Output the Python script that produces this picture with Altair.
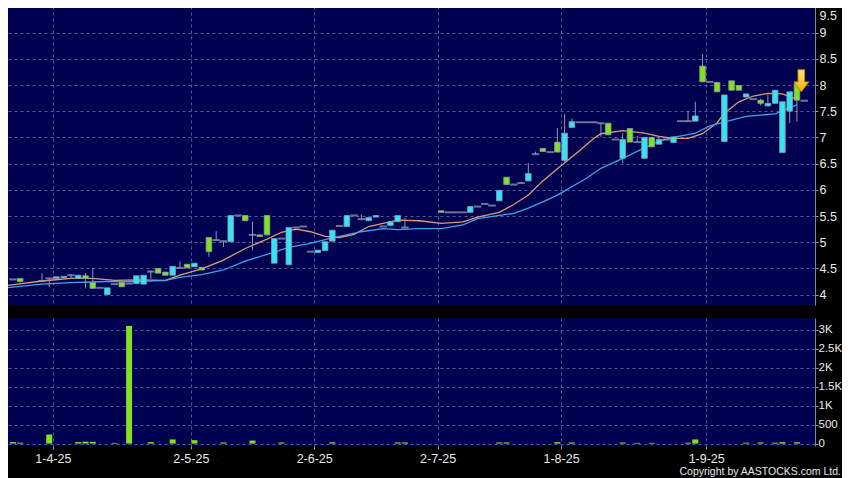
import altair as alt
import pandas as pd

# ---- candles (trading-day index, open, high, low, close) ----
K = [0, 1, 4, 5, 6, 7, 8, 9, 10, 11, 12, 13, 14, 15, 16, 17, 18, 19, 20, 21,
     22, 23, 24, 25, 26, 27, 28, 29, 30, 31, 32, 33, 34, 35, 36, 37, 38, 39, 40, 41,
     42, 43, 44, 45, 46, 47, 48, 49, 50, 51, 52, 53, 54, 59, 60, 61, 62, 63, 64, 65,
     66, 67, 68, 69, 70, 71, 72, 73, 74, 75, 76, 77, 78, 79, 80, 81, 82, 83, 84, 85,
     86, 87, 88, 89, 90, 91, 92, 93, 94, 95, 96, 97, 98, 99, 100, 101, 102, 103, 104, 105,
     106, 107, 108, 109]
OPEN = [4.29, 4.31, 4.26, 4.31, 4.31, 4.32, 4.37, 4.31, 4.36, 4.23, 4.13, 4.00, 4.20, 4.23, 4.21, 4.21, 4.20, 4.44, 4.50, 4.43,
        4.37, 4.51, 4.58, 4.53, 4.52, 5.09, 5.04, 5.02, 5.01, 5.51, 5.51, 5.14, 5.14, 5.51, 4.60, 5.07, 4.57, 5.28, 5.30, 4.82,
        4.80, 4.84, 5.02, 5.31, 5.30, 5.51, 5.44, 5.41, 5.48, 5.30, 5.32, 5.39, 5.28, 5.60, 5.57, 5.57, 5.57, 5.57, 5.68, 5.73,
        5.70, 5.79, 6.24, 6.10, 6.13, 6.17, 6.68, 6.79, 6.72, 6.91, 6.56, 7.19, 7.29, 7.29, 7.29, 7.27, 7.27, 6.96, 6.60, 7.17,
        6.91, 6.60, 7.00, 6.87, 6.96, 6.90, 7.31, 7.31, 7.31, 8.36, 8.06, 8.05, 6.92, 8.08, 7.99, 7.77, 7.73, 7.71, 7.60, 7.65,
        6.71, 7.50, 8.03, 7.70]
HIGH = [4.29, 4.31, 4.41, 4.31, 4.34, 4.35, 4.39, 4.37, 4.41, 4.51, 4.13, 4.13, 4.20, 4.23, 4.21, 4.36, 4.37, 4.46, 4.50, 4.43,
        4.54, 4.63, 4.58, 4.60, 4.52, 5.09, 5.21, 5.02, 5.51, 5.51, 5.51, 5.39, 5.14, 5.51, 5.07, 5.07, 5.28, 5.28, 5.30, 4.82,
        4.85, 5.01, 5.23, 5.31, 5.51, 5.51, 5.53, 5.47, 5.51, 5.30, 5.39, 5.51, 5.46, 5.60, 5.57, 5.57, 5.57, 5.68, 5.68, 5.73,
        5.70, 5.99, 6.24, 6.10, 6.13, 6.51, 6.73, 6.79, 6.72, 7.18, 7.45, 7.36, 7.29, 7.29, 7.29, 7.27, 7.27, 6.96, 7.08, 7.17,
        7.03, 7.00, 7.00, 7.02, 6.96, 7.01, 7.31, 7.51, 7.68, 8.59, 8.06, 8.05, 7.81, 8.08, 7.99, 7.83, 7.73, 7.74, 7.81, 7.90,
        7.68, 7.87, 8.03, 7.70]
LOW = [4.29, 4.23, 4.24, 4.14, 4.31, 4.32, 4.30, 4.31, 4.12, 4.12, 4.13, 4.00, 4.20, 4.15, 4.21, 4.21, 4.20, 4.30, 4.41, 4.37,
       4.37, 4.51, 4.51, 4.53, 4.47, 4.72, 5.04, 4.91, 5.01, 5.51, 5.41, 4.85, 5.11, 5.14, 4.60, 5.07, 4.57, 5.28, 5.30, 4.82,
       4.80, 4.84, 5.02, 5.31, 5.30, 5.51, 5.44, 5.41, 5.48, 5.30, 5.32, 5.39, 5.28, 5.57, 5.57, 5.57, 5.57, 5.57, 5.68, 5.73,
       5.70, 5.79, 6.10, 6.10, 6.13, 6.17, 6.68, 6.73, 6.72, 6.72, 6.51, 7.19, 7.29, 7.29, 7.29, 7.01, 7.05, 6.96, 6.51, 6.91,
       6.91, 6.60, 6.82, 6.87, 6.96, 6.90, 7.31, 7.31, 7.31, 8.06, 8.06, 7.87, 6.92, 7.90, 7.90, 7.77, 7.73, 7.61, 7.60, 7.65,
       6.71, 7.27, 7.30, 7.70]
CLOSE = [4.29, 4.25, 4.26, 4.31, 4.34, 4.35, 4.37, 4.37, 4.31, 4.12, 4.13, 4.13, 4.20, 4.15, 4.21, 4.36, 4.37, 4.44, 4.41, 4.37,
         4.54, 4.51, 4.51, 4.60, 4.47, 4.82, 5.04, 5.02, 5.51, 5.51, 5.41, 5.14, 5.11, 5.14, 5.07, 5.07, 5.28, 5.28, 5.30, 4.82,
         4.85, 5.01, 5.23, 5.31, 5.51, 5.51, 5.44, 5.47, 5.51, 5.30, 5.39, 5.51, 5.28, 5.57, 5.57, 5.57, 5.57, 5.68, 5.68, 5.73,
         5.70, 5.99, 6.10, 6.10, 6.13, 6.31, 6.68, 6.73, 6.72, 6.72, 7.08, 7.30, 7.29, 7.29, 7.29, 7.27, 7.05, 6.96, 6.96, 6.91,
         6.91, 7.00, 6.82, 6.96, 6.96, 7.01, 7.31, 7.31, 7.41, 8.06, 8.06, 7.87, 7.81, 7.90, 7.90, 7.83, 7.73, 7.65, 7.65, 7.90,
         7.68, 7.87, 7.71, 7.70]

# ---- moving averages ----
ORANGE_K = [-1, 4, 8, 11, 14, 17, 21, 23, 26, 29, 32, 35, 37, 39, 41, 43, 45, 47, 49, 51,
            53, 56, 59, 62, 64, 67, 69, 71, 73, 75, 78, 80, 81, 84, 87, 89, 91, 93, 95, 97,
            98, 100, 102, 104, 106, 107, 108]
ORANGE = [4.17, 4.26, 4.31, 4.31, 4.27, 4.28, 4.27, 4.37, 4.49, 4.66, 4.88, 5.06, 5.19, 5.25, 5.20, 5.11, 5.09, 5.15, 5.30, 5.36,
          5.42, 5.41, 5.36, 5.39, 5.48, 5.57, 5.72, 5.90, 6.17, 6.40, 6.74, 6.98, 7.07, 7.13, 7.08, 7.02, 6.98, 6.98, 7.07, 7.28,
          7.46, 7.68, 7.79, 7.84, 7.83, 7.78, 7.73]
BLUE_K = [-1, 4, 8, 13, 17, 21, 23, 26, 29, 32, 36, 38, 41, 43, 45, 48, 51, 53, 56, 59,
          62, 64, 69, 71, 73, 75, 79, 81, 84, 87, 89, 91, 94, 96, 99, 101, 105, 106, 108]
BLUE = [4.13, 4.20, 4.23, 4.25, 4.25, 4.27, 4.33, 4.38, 4.47, 4.64, 4.81, 4.90, 4.98, 5.05, 5.11, 5.20, 5.26, 5.24, 5.26, 5.26,
        5.33, 5.45, 5.55, 5.65, 5.77, 5.90, 6.22, 6.41, 6.60, 6.80, 6.93, 7.00, 7.08, 7.22, 7.33, 7.40, 7.45, 7.51, 7.62]

# ---- volume ----
VOL_K = [0, 1, 5, 9, 10, 11, 14, 16, 19, 22, 25, 29, 33, 37, 44, 53, 54, 67, 68, 75,
         77, 84, 86, 88, 93, 94, 101, 103, 105, 106, 108]
VOL = [40, 25, 240, 40, 50, 45, 20, 3100, 40, 110, 90, 30, 80, 30, 35, 30, 30, 30, 30, 40,
       30, 30, 20, 20, 25, 110, 25, 30, 25, 40, 35]

# ---- axes text ----
TICK_POS = [5.5, 24.5, 41.5, 58.5, 75.5, 95.5]
TICK_LABELS = ["1-4-25", "2-5-25", "2-6-25", "2-7-25", "1-8-25", "1-9-25"]
PRICE_TICKS = [4.0, 4.5, 5.0, 5.5, 6.0, 6.5, 7.0, 7.5, 8.0, 8.5, 9.0, 9.5]
VOL_TICKS = [0, 500, 1000, 1500, 2000, 2500, 3000]
COPYRIGHT = "Copyright by AASTOCKS.com Ltd."
ARROW_K = [108.6]
ARROW_P = [8.08]

NAVY = "#000050"
CYAN = "#35e4f4"
LIME = "#82e21f"
FONT = "Liberation Sans"

candles = pd.DataFrame({"k": K, "open": OPEN, "high": HIGH, "low": LOW, "close": CLOSE})
ma = pd.concat([
    pd.DataFrame({"k": ORANGE_K, "v": ORANGE, "s": "ma10"}),
    pd.DataFrame({"k": BLUE_K, "v": BLUE, "s": "ma20"}),
])
vol = pd.DataFrame({"k": VOL_K, "vol": VOL})
arrow = pd.DataFrame({"k": ARROW_K, "p": ARROW_P})

xs = alt.Scale(domain=[-0.68, 109.8], nice=False, zero=False)
X_TOP = alt.X("k:Q", scale=xs, axis=alt.Axis(values=TICK_POS, labels=False, ticks=False,
                                              domain=False, grid=True, title=None))
ps = alt.Scale(domain=[3.802, 9.622], nice=False, zero=False)
P_AXIS = alt.Axis(orient="right", values=PRICE_TICKS, format=".1~f", title=None, grid=True,
                  labelOverlap=False, labelFontSize=12.5, tickSize=3, labelPadding=1,
                  labelOffset={"condition": {"test": "datum.value >= 9.5", "value": 9}, "value": 0})


def py(field):
    return alt.Y(f"{field}:Q", scale=ps, axis=P_AXIS)


lines = alt.Chart(ma).mark_line(strokeWidth=1.3, clip=True).encode(
    x=X_TOP, y=py("v"),
    color=alt.Color("s:N", scale=alt.Scale(domain=["ma10", "ma20"], range=["#e39a72", "#3ea2ee"]), legend=None),
)
wicks = alt.Chart(candles).mark_rule(color="#9098aa", strokeWidth=1).encode(
    x=X_TOP, y=py("low"), y2="high:Q")
bodies = alt.Chart(candles).transform_filter("datum.open != datum.close").mark_bar(
    size=5.6, stroke="#8a98ac", strokeWidth=0.8).encode(
    x=X_TOP, y=py("open"), y2="close:Q",
    color=alt.condition("datum.close > datum.open", alt.value(CYAN), alt.value(LIME)))
flats = alt.Chart(candles).transform_filter("datum.open == datum.close").mark_tick(
    orient="horizontal", size=7.5, thickness=2, color="#9ea2b8").encode(x=X_TOP, y=py("open"))

ARROW_PATH = "M -0.3 -1 L 0.3 -1 L 0.3 0.1 L 0.68 0.1 L 0 1 L -0.68 0.1 L -0.3 0.1 Z"
arrow_mark = alt.Chart(arrow).mark_point(
    shape=ARROW_PATH, size=484, filled=True, opacity=1,
    fill=alt.LinearGradient(gradient="linear", x1=0, x2=0, y1=0, y2=1,
                            stops=[alt.GradientStop(color="#ffe680", offset=0),
                                   alt.GradientStop(color="#f2b200", offset=1)]),
    stroke="#c98400", strokeWidth=1).encode(x=X_TOP, y=py("p"))

top = alt.layer(lines, wicks, bodies, flats, arrow_mark).properties(width=812, height=305)

label_expr = ""
for pos, lab in zip(TICK_POS, TICK_LABELS):
    label_expr += f"datum.value == {pos} ? '{lab}' : "
label_expr += "''"

X_VOL = alt.X("k:Q", scale=xs, axis=alt.Axis(values=TICK_POS, labelExpr=label_expr, grid=True,
                                              ticks=True, tickSize=3, labelPadding=3, domain=False,
                                              title=None, labelFlush=False, labelOverlap=False))
vs = alt.Scale(domain=[-63, 3307], nice=False, zero=False)
V_AXIS = alt.Axis(orient="right", values=VOL_TICKS, title=None, grid=True, labelOverlap=False,
                  labelFontSize=11.5, tickSize=3, labelPadding=0,
                  labelExpr="datum.value < 1000 ? format(datum.value, 'd') : format(datum.value / 1000, '.1~f') + 'K'")

vbars = alt.Chart(vol).mark_bar(size=6, color=LIME).encode(
    x=X_VOL, y=alt.Y("vol:Q", scale=vs, axis=V_AXIS), y2=alt.datum(0))
copy_txt = alt.Chart(pd.DataFrame({"t": [COPYRIGHT]})).mark_text(
    align="right", baseline="alphabetic", fontSize=10.5, color="#e8e8e8", font=FONT).encode(
    x=alt.value(838), y=alt.value(157), text="t:N")

bottom = alt.layer(vbars, copy_txt).properties(width=812, height=128)

chart = alt.vconcat(top, bottom, spacing=13).properties(
    background="#000000",
    padding={"left": -5, "top": -8, "right": 0, "bottom": 0},
).configure_view(fill=NAVY, strokeWidth=0).configure_axis(
    labelColor="#e8e8e8", labelFont=FONT, labelFontSize=12.5, tickColor="#9a9a9a",
    tickSize=6, labelPadding=3, gridColor="#4f5a94", gridDash=[3, 3], gridWidth=1,
)

chart.save("out.html", embed_options={"renderer": "svg", "actions": False})
